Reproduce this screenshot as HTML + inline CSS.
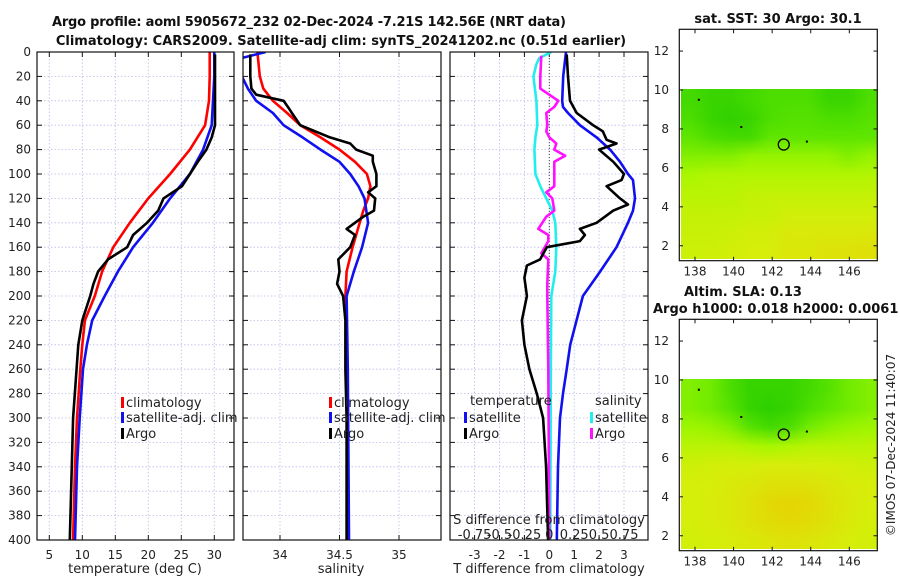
<!DOCTYPE html>
<html><head><meta charset="utf-8"><style>
body{margin:0;background:#fff;}
#wrap{position:relative;width:900px;height:580px;overflow:hidden;font-family:"DejaVu Sans","Liberation Sans",sans-serif;}
canvas{position:absolute;}
svg{position:absolute;left:0;top:0;}
</style></head><body>
<div id="wrap">
<canvas id="map1" width="196" height="170" style="left:681px;top:89px"></canvas>
<canvas id="map2" width="196" height="170" style="left:681px;top:379px"></canvas>
<svg id="fig" width="900" height="580"></svg>
</div>
<script>
// ---- Panel 1: temperature ----
const climTDepth=[0,20,40,60,80,100,120,140,160,180,200,220,240,260,300,340,400];
const climT=[29.3,29.3,29.2,28.6,26.3,23.3,20.0,17.2,14.7,13.0,11.9,10.4,10.0,9.7,9.2,8.9,8.6];
const satTDepth=[0,20,40,60,80,100,120,140,160,180,200,220,240,260,300,340,400];
const satT=[30.0,30.0,29.8,29.6,28.3,26.3,23.3,20.7,17.7,15.4,13.4,11.5,10.7,10.1,9.6,9.2,8.9];
const argoTDepth=[2,20,40,60,70,80,90,100,110,120,130,140,150,160,170,180,190,200,220,240,300,400];
const argoT=[30.1,30.1,30.1,30.1,29.6,28.8,27.5,26.3,25.1,22.3,21.5,19.8,17.7,16.8,13.9,12.4,11.7,11.2,10.0,9.4,8.6,8.1];
// ---- Panel 2: salinity ----
const climSDepth=[0,20,30,40,50,60,70,80,90,100,110,120,130,140,160,180,200,260,400];
const climS=[33.81,33.83,33.86,33.94,34.06,34.17,34.34,34.50,34.63,34.73,34.76,34.74,34.70,34.67,34.61,34.56,34.55,34.56,34.57];
const satSDepth=[0,8,20,30,40,50,60,70,80,90,100,110,120,140,160,180,200,260,400];
const satS=[33.88,33.55,33.68,33.73,33.80,33.94,34.03,34.19,34.34,34.50,34.59,34.66,34.71,34.74,34.69,34.62,34.56,34.57,34.58];
const argoSDepth=[2,20,30,35,40,47,50,60,70,75,80,85,90,100,110,115,120,130,135,145,150,160,170,180,190,200,220,260,300,400];
const argoS=[33.75,33.75,33.76,33.80,34.03,34.08,34.10,34.17,34.42,34.59,34.64,34.78,34.78,34.81,34.81,34.74,34.80,34.79,34.70,34.56,34.63,34.59,34.49,34.50,34.48,34.53,34.55,34.55,34.56,34.56];
// ---- Panel 3: differences ----
const satDTDepth=[0,20,40,45,50,60,70,80,90,100,105,120,130,140,160,180,200,240,260,280,300,340,400];
const satDT=[0.67,0.56,0.52,0.55,0.75,1.23,1.9,2.44,2.84,3.16,3.36,3.44,3.36,3.16,2.7,2.04,1.35,0.84,0.7,0.55,0.43,0.35,0.3];
const argoDTDepth=[2,20,40,50,60,65,72,75,80,90,100,105,110,120,125,130,140,145,150,155,160,170,175,185,200,220,240,260,280,300,340,400];
const argoDT=[0.7,0.75,0.83,1.1,1.76,2.15,2.3,2.7,2.0,2.57,3.0,2.9,2.3,2.84,3.16,2.57,1.9,1.23,1.43,1.23,-0.1,-0.37,-0.9,-1.0,-0.9,-1.1,-1.0,-0.8,-0.5,-0.25,-0.13,-0.05];
const satDSDepth=[0,5,10,20,40,60,70,80,100,110,120,130,140,160,180,200,260,400];
const satDS=[0.02,-0.1,-0.13,-0.16,-0.13,-0.12,-0.14,-0.15,-0.14,-0.09,-0.03,0.03,0.06,0.07,0.06,0.02,0.015,0.01];
const argoDSDepth=[3,20,30,35,40,45,50,60,65,70,75,80,85,90,100,110,115,120,130,135,145,150,155,165,170,190,200,260,400];
const argoDS=[-0.08,-0.09,-0.09,0.0,0.09,0.05,-0.03,-0.02,-0.03,0.0,0.07,0.05,0.16,0.05,0.05,0.05,-0.03,0.03,0.05,-0.03,-0.11,-0.01,-0.01,-0.08,-0.01,-0.02,-0.02,-0.01,0.0];
// ---- Maps (rows lat 10 -> 2, cols lon 137.5 -> 147.5), colour index 0..1 ----
const sstGrid=[
[0.15,0.1,0.1,0.15,0.2,0.2,0.2,0.1,0.1,0.2],
[0.2,0.1,0.05,0.1,0.2,0.25,0.25,0.2,0.2,0.25],
[0.3,0.2,0.15,0.15,0.3,0.3,0.3,0.3,0.3,0.3],
[0.4,0.4,0.4,0.45,0.45,0.45,0.45,0.45,0.4,0.45],
[0.52,0.55,0.55,0.55,0.55,0.55,0.55,0.55,0.55,0.55],
[0.58,0.58,0.58,0.62,0.62,0.62,0.62,0.62,0.62,0.62],
[0.62,0.62,0.62,0.63,0.64,0.67,0.67,0.67,0.67,0.67],
[0.64,0.64,0.65,0.68,0.68,0.72,0.72,0.72,0.72,0.72],
[0.66,0.66,0.68,0.7,0.7,0.74,0.74,0.76,0.76,0.78]];
const slaGrid=[
[0.4,0.35,0.2,0.08,0.08,0.08,0.15,0.25,0.35,0.4],
[0.4,0.35,0.25,0.08,0.03,0.08,0.2,0.3,0.35,0.4],
[0.48,0.46,0.4,0.25,0.15,0.2,0.35,0.42,0.46,0.48],
[0.58,0.58,0.58,0.54,0.5,0.54,0.58,0.58,0.58,0.58],
[0.66,0.68,0.69,0.69,0.7,0.7,0.69,0.69,0.68,0.66],
[0.69,0.7,0.72,0.74,0.76,0.77,0.76,0.74,0.71,0.7],
[0.69,0.71,0.73,0.77,0.82,0.84,0.82,0.77,0.73,0.7],
[0.69,0.71,0.73,0.77,0.8,0.82,0.8,0.77,0.72,0.69],
[0.68,0.69,0.71,0.73,0.75,0.77,0.75,0.73,0.7,0.68]];
const argoLon=142.6, argoLat=7.2;
const dotLon=[138.2,140.4,143.8], dotLat=[9.5,8.1,7.35];

const NS='http://www.w3.org/2000/svg';
const svg=document.getElementById('fig');
function el(tag,attrs,parent){const e=document.createElementNS(NS,tag);for(const k in attrs)e.setAttribute(k,attrs[k]);(parent||svg).appendChild(e);return e;}
function txt(x,y,s,opt,parent){const t=el('text',Object.assign({x:x,y:y,'font-size':12,fill:'#222','font-family':'DejaVu Sans, Liberation Sans, sans-serif'},opt||{}),parent);t.textContent=s;return t;}
const yD=d=>52+1.22*d;
const xT=v=>16.3+6.6*v, xS=v=>280+119*(v-34), xDT=v=>549.3+24.9*v, xDS=v=>549.3+99.6*v;
const panels=[{x0:37,x1:234,name:'temperature-panel'},{x0:243,x1:441,name:'salinity-panel'},{x0:450,x1:648,name:'difference-panel'}];
const defs=el('defs',{});
panels.forEach((p,i)=>{const c=el('clipPath',{id:'cp'+i},defs);el('rect',{x:p.x0,y:52,width:p.x1-p.x0,height:488},c);});
const depthTicks=[];for(let d=0;d<=400;d+=20)depthTicks.push(d);
const xTicks=[[5,10,15,20,25,30],[34,34.5,35],[-3,-2,-1,0,1,2,3]];
const xFns=[xT,xS,xDT];
panels.forEach((p,i)=>{
  const g=el('g',{},svg);
  
  depthTicks.forEach(d=>{if(d>0&&d<400)el('line',{x1:p.x0,x2:p.x1,y1:yD(d),y2:yD(d),stroke:'#b8bde6','stroke-width':0.8,'stroke-dasharray':'1.5,2'},g);
    el('line',{x1:p.x0,x2:p.x0+5,y1:yD(d),y2:yD(d),stroke:'#111'},g);el('line',{x1:p.x1-5,x2:p.x1,y1:yD(d),y2:yD(d),stroke:'#111'},g);});
  xTicks[i].forEach(v=>{const x=xFns[i](v);
    el('line',{x1:x,x2:x,y1:52,y2:540,stroke:'#b8bde6','stroke-width':0.8,'stroke-dasharray':'1.5,2'},g);
    el('line',{x1:x,x2:x,y1:535,y2:540,stroke:'#111'},g);el('line',{x1:x,x2:x,y1:52,y2:57,stroke:'#111'},g);
    const t=txt(x,559,String(v),{'text-anchor':'middle'},g);});
});
depthTicks.forEach(d=>{const t=txt(31,yD(d)+4,String(d),{'text-anchor':'end'});});
el('line',{x1:549.3,x2:549.3,y1:52,y2:540,stroke:'#444','stroke-width':1,'stroke-dasharray':'1,2'});
function series(dep,val,fx,col,ci,name,w){
  const pts=dep.map((d,i)=>fx(val[i]).toFixed(1)+','+yD(d).toFixed(1)).join(' ');
  const pl=el('polyline',{points:pts,fill:'none',stroke:col,'stroke-width':w||2.6,'stroke-linejoin':'round','clip-path':'url(#cp'+ci+')'});
  
}
series(climTDepth,climT,xT,'#ff0000',0,'climatology-temperature-line');
series(satTDepth,satT,xT,'#1010f0',0,'satellite-temperature-line');
series(argoTDepth,argoT,xT,'#000',0,'argo-temperature-line');
series(climSDepth,climS,xS,'#ff0000',1,'climatology-salinity-line');
series(satSDepth,satS,xS,'#1010f0',1,'satellite-salinity-line');
series(argoSDepth,argoS,xS,'#000',1,'argo-salinity-line');
series(satDSDepth,satDS,xDS,'#22eeee',2,'satellite-salinity-diff-line');
series(argoDSDepth,argoDS,xDS,'#ff10ff',2,'argo-salinity-diff-line');
series(satDTDepth,satDT,xDT,'#1010f0',2,'satellite-temperature-diff-line');
series(argoDTDepth,argoDT,xDT,'#000',2,'argo-temperature-diff-line');
panels.forEach(p=>el('rect',{x:p.x0,y:52,width:p.x1-p.x0,height:488,fill:'none',stroke:'#111','stroke-width':1.2}));
function legend(x,y,col,label,name){const g=el('g',{});
  el('rect',{x:x,y:y-10,width:3,height:11,fill:col},g);txt(x+5,y,label,{'font-size':13},g);}
legend(121,407,'#ff0000','climatology','legend-climatology');
legend(121,422,'#1010f0','satellite-adj. clim','legend-satellite');
legend(121,438,'#000','Argo','legend-argo');
legend(329,407,'#ff0000','climatology','legend2-climatology');
legend(329,422,'#1010f0','satellite-adj. clim','legend2-satellite');
legend(329,438,'#000','Argo','legend2-argo');
txt(470,405,'temperature',{'font-size':13});
legend(464,422,'#1010f0','satellite','legend-temp-satellite');
legend(464,438,'#000','Argo','legend-temp-argo');
txt(595,405,'salinity',{'font-size':13});
legend(590,422,'#22eeee','satellite','legend-sal-satellite');
legend(590,438,'#ff10ff','Argo','legend-sal-argo');
txt(549,524,'S difference from climatology',{'font-size':13,'text-anchor':'middle'});
const sLabels=[-0.75,-0.5,-0.25,0,0.25,0.5,0.75];
sLabels.forEach(v=>txt(xDS(v),539,String(v),{'font-size':13,'text-anchor':'middle'}));
txt(135,573,'temperature (deg C)',{'font-size':13,'text-anchor':'middle'});
txt(341,573,'salinity',{'font-size':13,'text-anchor':'middle'});
txt(549,573,'T difference from climatology',{'font-size':13,'text-anchor':'middle'});
const t1=txt(309,26,'Argo profile: aoml 5905672_232 02-Dec-2024 -7.21S 142.56E (NRT data)',{'font-size':13,'font-weight':'bold','text-anchor':'middle',fill:'#111',textLength:514});

txt(341,45,'Climatology: CARS2009. Satellite-adj clim: synTS_20241202.nc (0.51d earlier)',{'font-size':13,'font-weight':'bold','text-anchor':'middle',fill:'#111'});
const stops=[[0,[40,205,0]],[0.3,[95,230,0]],[0.5,[165,248,0]],[0.7,[215,238,10]],[1,[245,185,0]]];
function cmap(v){for(let i=1;i<stops.length;i++){if(v<=stops[i][0]){const a=stops[i-1],b=stops[i],f=(v-a[0])/(b[0]-a[0]);return a[1].map((c,k)=>Math.round(c+(b[1][k]-c)*f));}}return stops[stops.length-1][1];}
function drawMap(id,grid){const c=document.getElementById(id),ctx=c.getContext('2d');
  const s=document.createElement('canvas');s.width=grid[0].length;s.height=grid.length;const sc=s.getContext('2d');
  const im=sc.createImageData(s.width,s.height);
  grid.forEach((row,r)=>row.forEach((v,k)=>{const col=cmap(v),o=(r*s.width+k)*4;im.data[o]=col[0];im.data[o+1]=col[1];im.data[o+2]=col[2];im.data[o+3]=255;}));
  sc.putImageData(im,0,0);ctx.imageSmoothingEnabled=true;ctx.drawImage(s,0,0,c.width,c.height);}
drawMap('map1',sstGrid);drawMap('map2',slaGrid);
const mX=lon=>695+19.29*(lon-138);
function mapFrame(top,name){const mY=lat=>top+60.7-19.47*(lat-10);const g=el('g',{});
  el('rect',{x:679.3,y:top,width:198,height:231.4,fill:'none',stroke:'#111','stroke-width':1.2},g);
  [2,4,6,8,10,12].forEach(l=>{const y=mY(l);el('line',{x1:679.3,x2:683,y1:y,y2:y,stroke:'#111'},g);el('line',{x1:873.5,x2:877.3,y1:y,y2:y,stroke:'#111'},g);txt(669,y+4,String(l),{'text-anchor':'end'},g);});
  [138,140,142,144,146].forEach(l=>{const x=mX(l);el('line',{x1:x,x2:x,y1:top+231.4,y2:top+227.5,stroke:'#111'},g);el('line',{x1:x,x2:x,y1:top,y2:top+4,stroke:'#111'},g);txt(x,top+246,String(l),{'text-anchor':'middle'},g);});
  const c=el('circle',{cx:mX(argoLon),cy:mY(argoLat),r:5.5,fill:'none',stroke:'#000','stroke-width':1.3},g);
  
  dotLon.forEach((lo,i)=>el('rect',{x:mX(lo)-1,y:mY(dotLat[i])-1,width:2,height:2,fill:'#000'},g));}
mapFrame(29.3,'sst-map-frame');mapFrame(319.3,'sla-map-frame');
txt(778,23,'sat. SST: 30 Argo: 30.1',{'font-size':13,'font-weight':'bold','text-anchor':'middle',fill:'#111'});
txt(684,296,'Altim. SLA: 0.13',{'font-size':13,'font-weight':'bold',fill:'#111'});
txt(653,313,'Argo h1000: 0.018 h2000: 0.0061',{'font-size':13,'font-weight':'bold',fill:'#111'});
txt(0,0,'©IMOS 07-Dec-2024 11:40:07',{'font-size':12,'text-anchor':'middle',transform:'translate(895,445) rotate(-90)'});
</script>
</body></html>
